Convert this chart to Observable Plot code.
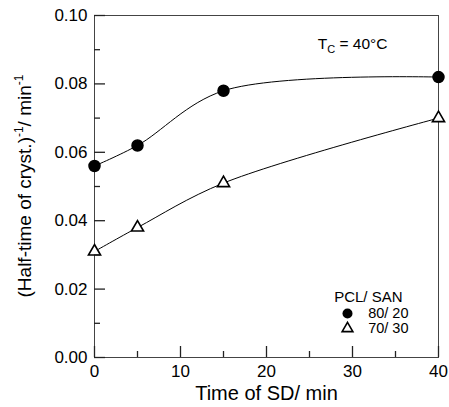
<!DOCTYPE html>
<html><head><meta charset="utf-8">
<script src="https://cdn.jsdelivr.net/npm/d3@7"></script>
<script src="https://cdn.jsdelivr.net/npm/@observablehq/plot@0.6"></script>
<style>body{margin:0;background:#fff}</style>
</head><body><div id="chart"></div>
<script>
const timeSD = [0, 5, 15, 40];
const rate8020 = [0.056, 0.062, 0.078, 0.082];
const rate7030 = [0.031, 0.038, 0.051, 0.070];
const xTicks = [0, 10, 20, 30, 40];
const xMinor = [5, 15, 25, 35];
const yTicks = [0, 0.02, 0.04, 0.06, 0.08, 0.10];
const yMinor = [0.01, 0.03, 0.05, 0.07, 0.09];

const s1 = timeSD.map((t, i) => ({t, v: rate8020[i]}));
const s2 = timeSD.map((t, i) => ({t, v: rate7030[i]}));
const font = "Liberation Sans, Arial, sans-serif";
const W = 449, H = 407, mL = 94, mR = 11, mT = 15, mB = 50;
const fw = W - mL - mR, fh = H - mT - mB;

const plot = Plot.plot({
  width: W, height: H,
  marginLeft: mL, marginRight: mR, marginTop: mT, marginBottom: mB,
  style: {fontFamily: font, fontSize: "17px", background: "#fff", color: "#000"},
  x: {domain: [0, 40], axis: null},
  y: {domain: [0, 0.1], axis: null},
  marks: [
    Plot.frame({stroke: "#444", strokeWidth: 1}),
    Plot.axisX({ticks: xTicks, tickSize: 0, tickPadding: 7, label: null, fontSize: 17, tickFormat: d => String(d)}),
    Plot.axisY({ticks: yTicks, tickSize: 0, tickPadding: 7, label: null, fontSize: 17, tickFormat: d3.format(".2f")}),
    Plot.line(s1, {x: "t", y: "v", curve: "catmull-rom", stroke: "#000", strokeWidth: 1}),
    Plot.line(s2, {x: "t", y: "v", curve: "catmull-rom", stroke: "#000", strokeWidth: 1}),
    Plot.dot(s1, {x: "t", y: "v", r: 5.5, fill: "#000", stroke: "#000"}),
    Plot.dot(s2, {x: "t", y: "v", r: 4.5, symbol: "triangle", fill: "#fff", stroke: "#000", strokeWidth: 1.6}),
    Plot.text(["Time of SD/ min"], {frameAnchor: "bottom", dy: 36, fontSize: 20, lineAnchor: "middle"}),
    Plot.text(["TC_LABEL"], {frameAnchor: "top-right", dx: -51, dy: 29, textAnchor: "end", fontSize: 15.5, lineAnchor: "middle"}),
    Plot.text(["PCL/ SAN"], {frameAnchor: "bottom-right", dx: -36, dy: -60, textAnchor: "end", fontSize: 15, lineAnchor: "middle"}),
    Plot.dot(["80/ 20"], {frameAnchor: "bottom-right", dx: -91, dy: -44, r: 5, fill: "#000"}),
    Plot.dot(["70/ 30"], {frameAnchor: "bottom-right", dx: -91, dy: -29, r: 4, symbol: "triangle", fill: "#fff", stroke: "#000", strokeWidth: 1.6}),
    Plot.text(["80/ 20"], {frameAnchor: "bottom-right", dx: -30, dy: -44, textAnchor: "end", fontSize: 14.5, lineAnchor: "middle"}),
    Plot.text(["70/ 30"], {frameAnchor: "bottom-right", dx: -30, dy: -29, textAnchor: "end", fontSize: 14.5, lineAnchor: "middle"}),
    Plot.tickX(xTicks, {x: d => d, insetTop: fh - 11, stroke: "#222", strokeWidth: 1.3}),
    Plot.tickX(xMinor, {x: d => d, insetTop: fh - 6, stroke: "#222", strokeWidth: 1.3}),
    Plot.tickY(yTicks, {y: d => d, insetRight: fw - 11, stroke: "#222", strokeWidth: 1.3}),
    Plot.tickY(yMinor, {y: d => d, insetRight: fw - 6, stroke: "#222", strokeWidth: 1.3}),
  ]
});
document.getElementById("chart").append(plot);

const svg = d3.select(plot);
svg.selectAll("text").each(function() {
  const el = d3.select(this);
  if (el.text() === "TC_LABEL") {
    el.text("");
    el.append("tspan").text("T");
    el.append("tspan").attr("font-size", "11").attr("dy", "4").text("C");
    el.append("tspan").attr("dy", "-4").text(" = 40°C");
  }
});
const yl = svg.append("text")
  .attr("transform", "translate(31,186) rotate(-90)")
  .attr("text-anchor", "middle")
  .attr("font-family", font)
  .attr("font-size", 19)
  .attr("fill", "#000");
yl.append("tspan").text("(Half-time of cryst.)");
yl.append("tspan").attr("font-size", 12).attr("dy", -8).text("-1");
yl.append("tspan").attr("dy", 8).text("/ min");
yl.append("tspan").attr("font-size", 12).attr("dy", -8).text("-1");
</script></body></html>
